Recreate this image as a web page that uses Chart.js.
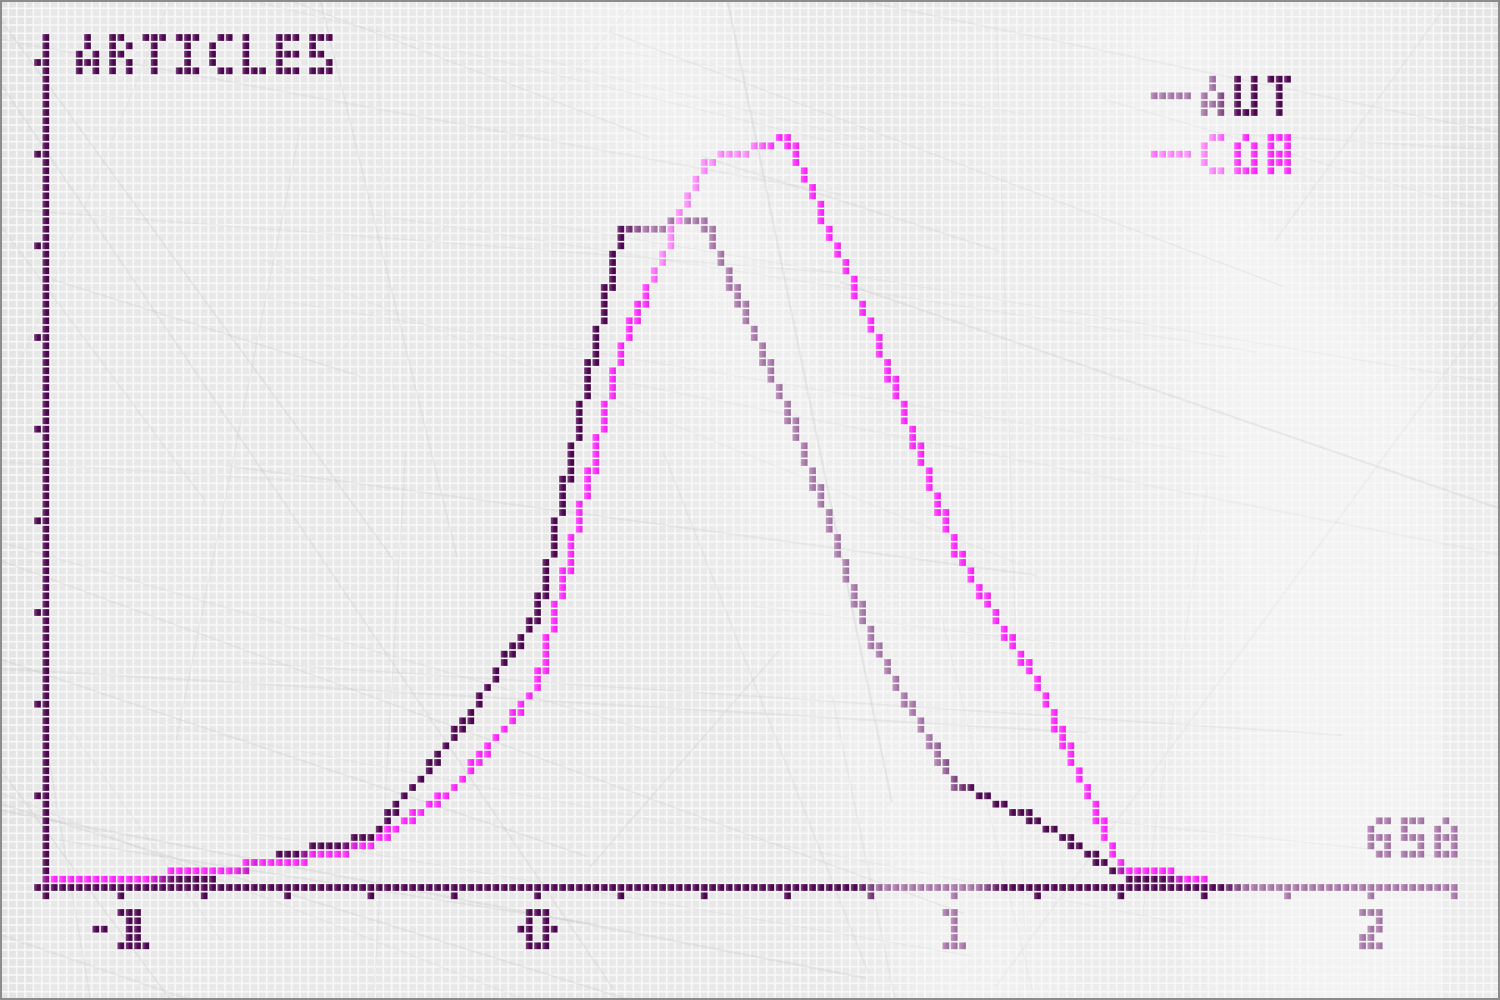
<!DOCTYPE html>
<html lang="en">
<head>
<meta charset="utf-8">
<title>Articles - AUT / COR</title>
<script src="https://cdn.jsdelivr.net/npm/chart.js@4.4.1/dist/chart.umd.min.js"></script>
<style>
  html, body { margin: 0; padding: 0; background: #efefef; }
  #panel { width: 1500px; height: 1000px; }
  canvas { display: block; }
</style>
</head>
<body>
<div id="panel"><canvas id="grafico" width="1500" height="1000"></canvas></div>
<script>
// --- datos ---
const binCentres = [-1.2, -1.0, -0.8, -0.6, -0.4, -0.2, 0, 0.2, 0.4, 0.6, 0.8, 1.0, 1.2, 1.4, 1.6];
const autCounts = [0, 0, 6, 25, 38, 115, 210, 503, 510, 366, 191, 80, 51, 10, 0];
const corCounts = [6, 6, 13, 19, 32, 76, 153, 411, 554, 574, 430, 261, 156, 16, 6];
const seriesNames = ['AUT', 'COR'];
const xTickValues = [-1.18, -1, -0.8, -0.6, -0.4, -0.2, 0, 0.2, 0.4, 0.6, 0.8, 1, 1.2, 1.4, 1.6, 1.8, 2, 2.2];
const xLabelledTicks = [-1, 0, 1, 2];
const yTickValues = [0, 70, 140, 210, 280, 350, 420, 490, 560, 630];
const xRange = [-1.18, 2.2];
const yRange = [0, 652];
const yTitle = 'ARTICLES';
const cornerText = '650';

const CELL = 1500 / 180;           // tamaño de cada "led"
const DARK = '#4f0652';
const MAGENTA = '#ff2bff';
const MONO = '"DejaVu Sans Mono"';

function clamp01(v) { return v < 0 ? 0 : v > 1 ? 1 : v; }
function inBand(x, lo, hi, soft) { return clamp01(Math.min((x - lo) / soft, (hi - x) / soft) + 0.5); }

// zonas donde el brillo "lava" los leds
function glare(x, y, soft) {
    const g1 = inBand(x, 640 + (y - 250) * 0.36, 760 + (y - 137) * 0.306, soft);
    const g2 = inBand(x, 1140 + (y - 100) * 0.12, 1225 + Math.max(0, y - 160), soft);
    return Math.max(g1, g2);
}

// texto letra por letra, cada letra en un hueco de 3 celdas
function ledText(ctx, text, col, baseline, color) {
    ctx.fillStyle = color;
    ctx.strokeStyle = color;
    ctx.lineWidth = 1.5;
    ctx.font = 'bold 55px ' + MONO;
    ctx.textAlign = 'center';
    ctx.textBaseline = 'alphabetic';
    [...text].forEach((ch, i) => {
        ctx.save();
        ctx.translate((col + 4 * i + 1.5) * CELL, baseline);
        ctx.scale(0.8, 1);
        ctx.fillText(ch, 0, 0);
        ctx.strokeText(ch, 0, 0);
        ctx.restore();
    });
}

const rgb = c => `rgb(${Math.round(c[0])},${Math.round(c[1])},${Math.round(c[2])})`;

const ledPanel = {
    id: 'ledPanel',
    afterDraw(chart) {
        const ctx = chart.ctx;
        const W = chart.width, H = chart.height;
        ctx.save();
        ctx.setTransform(1, 0, 0, 1, 0, 0);

        // titulo del eje y, leyenda y nota de la esquina
        ledText(ctx, yTitle, 9, 75, DARK);
        chart.data.datasets.forEach((ds, i) => {
            const yc = (11.5 + 7 * i) * CELL;
            ctx.strokeStyle = ds.borderColor;
            ctx.lineWidth = CELL;
            ctx.beginPath();
            ctx.moveTo(1150, yc);
            ctx.lineTo(1191, yc);
            ctx.stroke();
            ledText(ctx, ds.label, 144, (14 + 7 * i) * CELL - 0.5, ds.borderColor);
        });
        ledText(ctx, cornerText, 164, 103 * CELL - 0.5, DARK);

        // pasar todo lo dibujado a la rejilla de leds
        const px = ctx.getImageData(0, 0, W, H).data;
        const cols = Math.round(W / CELL), rows = Math.round(H / CELL);
        const lit = [];
        for (let r = 0; r < rows; r++) {
            for (let c = 0; c < cols; c++) {
                const cx = Math.floor((c + 0.5) * CELL), cy = Math.floor((r + 0.5) * CELL);
                let sa = 0, sr = 0, sg = 0, sb = 0;
                for (let dy = -1; dy <= 1; dy++) {
                    for (let dx = -1; dx <= 1; dx++) {
                        const k = ((cy + dy) * W + cx + dx) * 4, a = px[k + 3];
                        sa += a; sr += px[k] * a; sg += px[k + 1] * a; sb += px[k + 2] * a;
                    }
                }
                if (sa / 9 > 110) lit.push([c, r, sr / sa, sg / sa, sb / sa]);
            }
        }

        // fondo
        ctx.clearRect(0, 0, W, H);
        ctx.fillStyle = '#f8f8f8';
        ctx.fillRect(0, 0, W, H);
        for (let r = 0; r < rows; r++) {
            for (let c = 0; c < cols; c++) {
                const mx = (c + 0.5) * CELL, my = (r + 0.5) * CELL;
                let b = 0.3 + 0.45 * glare(mx, my, 160) + 0.2 * inBand(mx, 950, 1420, 120);
                if (mx > 1440 || mx < 30) b -= 0.25;
                const v = Math.round(227 + 17 * clamp01(b));
                ctx.fillStyle = `rgb(${v},${v},${v})`;
                ctx.fillRect(c * CELL + 0.8, r * CELL + 0.8, CELL - 1.6, CELL - 1.6);
            }
        }

        // rayones
        let seed = 12345;
        const next = () => (seed = (seed * 16807) % 2147483647) / 2147483647;
        ctx.lineCap = 'round';
        for (let i = 0; i < 55; i++) {
            const x = next() * W, y = next() * H;
            const ang = (next() < 0.6 ? 0.05 + next() * 0.35 : 0.9 + next() * 1.4);
            const len = 250 + next() * 1000;
            ctx.strokeStyle = `rgba(195,195,195,${0.1 + next() * 0.18})`;
            ctx.lineWidth = 0.7 + next() * 1.6;
            ctx.beginPath();
            ctx.moveTo(x - Math.cos(ang) * len / 2, y - Math.sin(ang) * len / 2);
            ctx.lineTo(x + Math.cos(ang) * len / 2, y + Math.sin(ang) * len / 2);
            ctx.stroke();
        }

        // leds encendidos
        const WASH = [255, 230, 255];
        lit.forEach(([c, r, R, G, B]) => {
            const x0 = c * CELL, y0 = r * CELL;
            const g = 0.52 * glare(x0 + CELL / 2, y0 + CELL / 2, 28);
            const base = [R, G, B].map((v, i) => v + (WASH[i] - v) * g);
            const hi = base.map(v => v + (255 - v) * 0.3);
            const lo = base.map(v => v * 0.85);
            const grad = ctx.createLinearGradient(x0, 0, x0 + CELL, 0);
            grad.addColorStop(0, rgb(hi));
            grad.addColorStop(0.55, rgb(base));
            grad.addColorStop(1, rgb(lo));
            ctx.fillStyle = grad;
            ctx.fillRect(x0 + 0.8, y0 + 0.8, CELL - 1.6, CELL - 1.6);
        });

        ctx.strokeStyle = '#8c8c8c';
        ctx.lineWidth = 2;
        ctx.strokeRect(1, 1, W - 2, H - 2);
        ctx.restore();
    }
};

const axisGrid = { display: true, drawOnChartArea: false, drawTicks: true, tickLength: 12, lineWidth: CELL, color: DARK };
const axisBorder = { display: true, color: DARK, width: CELL };

new Chart(document.getElementById('grafico'), {
    type: 'line',
    data: {
        datasets: [{
            label: seriesNames[0],
            data: binCentres.map((x, i) => ({ x: x, y: autCounts[i] })),
            borderColor: DARK,
            order: 2
        }, {
            label: seriesNames[1],
            data: binCentres.map((x, i) => ({ x: x, y: corCounts[i] })),
            borderColor: MAGENTA,
            order: 1
        }]
    },
    options: {
        responsive: false,
        animation: false,
        devicePixelRatio: 1,
        events: [],
        layout: { padding: { top: 887.5 - 850 / 650 * yRange[1], right: 1500 - 174.5 * CELL, left: 0, bottom: 0 } },
        elements: {
            line: { borderWidth: CELL, tension: 0, fill: false, borderJoinStyle: 'round', borderCapStyle: 'round' },
            point: { radius: 0 }
        },
        plugins: {
            legend: { display: false },
            title: { display: false },
            tooltip: { enabled: false }
        },
        scales: {
            x: {
                type: 'linear',
                min: xRange[0],
                max: xRange[1],
                afterFit: s => { s.height = 1000 - 887.5; },
                afterBuildTicks: s => { s.ticks = xTickValues.map(v => ({ value: v })); },
                grid: axisGrid,
                border: axisBorder,
                ticks: {
                    autoSkip: false,
                    maxRotation: 0,
                    minRotation: 0,
                    padding: 0,
                    color: DARK,
                    textStrokeColor: DARK,
                    textStrokeWidth: 1.5,
                    font: { family: 'DejaVu Sans', size: 55, weight: 'bold' },
                    callback: v => xLabelledTicks.includes(Math.round(v * 100) / 100) ? String(Math.round(v)) : ''
                }
            },
            y: {
                type: 'linear',
                min: yRange[0],
                max: yRange[1],
                afterFit: s => { s.width = 5.5 * CELL; },
                afterBuildTicks: s => { s.ticks = yTickValues.map(v => ({ value: v })); },
                grid: axisGrid,
                border: axisBorder,
                ticks: { display: false }
            }
        }
    },
    plugins: [ledPanel]
});
</script>
</body>
</html>
